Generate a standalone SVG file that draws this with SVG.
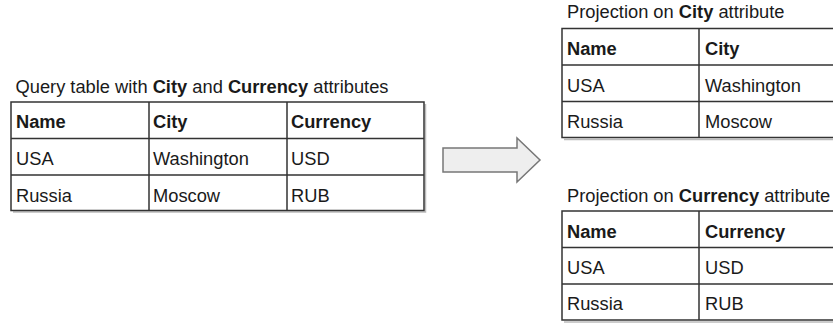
<svg xmlns="http://www.w3.org/2000/svg" width="833" height="323" viewBox="0 0 833 323">
<style>
text{font-family:"Liberation Sans",Arial,sans-serif;font-size:18.3px;fill:#1a1a1a}
.b{font-weight:bold}
.grid{fill:none;stroke:#333;stroke-width:1.5}
.shadow{fill:none;stroke:#bbb;stroke-width:1.5}
.arrow{fill:#eeeeee;stroke:#777;stroke-width:1.5}
</style>
<rect width="833" height="323" fill="#fff"/>
<g id="query-table">
<text x="15.5" y="92.5">Query table with <tspan class="b">City</tspan> and <tspan class="b">Currency</tspan> attributes</text>
<path class="shadow" d="M13 212 H425.5 V104"/>
<rect class="grid" x="11" y="102" width="413" height="108.5"/>
<path class="grid" d="M11 138.5 H424 M11 175 H424 M149 102 V210.5 M287 102 V210.5"/>
<text class="b" x="16" y="128.3">Name</text>
<text class="b" x="153" y="128.3">City</text>
<text class="b" x="291" y="128.3">Currency</text>
<text x="16" y="165">USA</text>
<text x="153" y="165">Washington</text>
<text x="291" y="165">USD</text>
<text x="16" y="201.5">Russia</text>
<text x="153" y="201.5">Moscow</text>
<text x="291" y="201.5">RUB</text>
</g>
<g id="city-projection">
<text x="567" y="17.5">Projection on <tspan class="b">City</tspan> attribute</text>
<path class="shadow" d="M564 139.5 H840"/>
<path class="grid" d="M840 28.5 H562 V137.5 H840 M562 65 H840 M562 101.5 H840 M699 28.5 V137.5"/>
<text class="b" x="567" y="55">Name</text>
<text class="b" x="705" y="55">City</text>
<text x="567" y="91.5">USA</text>
<text x="705" y="91.5">Washington</text>
<text x="567" y="128">Russia</text>
<text x="705" y="128">Moscow</text>
</g>
<g id="currency-projection">
<text x="567" y="201.5">Projection on <tspan class="b">Currency</tspan> attribute</text>
<path class="shadow" d="M564 322 H840"/>
<path class="grid" d="M840 211 H562 V320 H840 M562 247.5 H840 M562 284 H840 M699 211 V320"/>
<text class="b" x="567" y="238">Name</text>
<text class="b" x="705" y="238">Currency</text>
<text x="567" y="274">USA</text>
<text x="705" y="274">USD</text>
<text x="567" y="310">Russia</text>
<text x="705" y="310">RUB</text>
</g>
<g id="connectors">
<path class="arrow" d="M443 148 H517 V138 L540 160 L517 182 V172 H443 Z"/>
</g>
</svg>
